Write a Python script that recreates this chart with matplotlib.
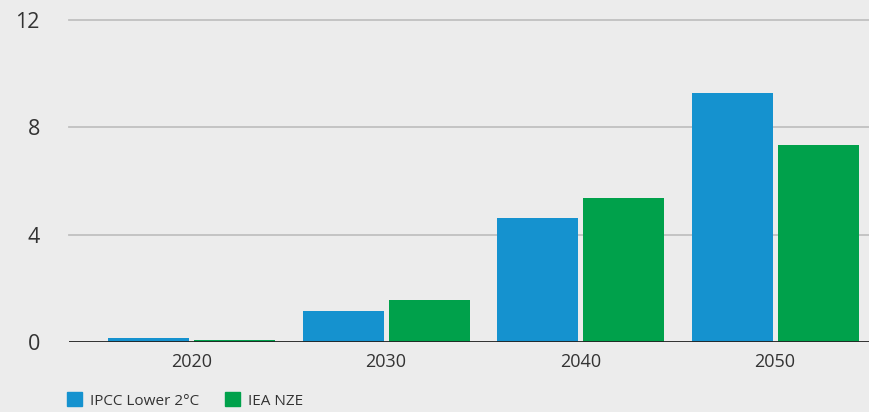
import matplotlib.pyplot as plt
import matplotlib.patches as mpatches
import numpy as np

# data
years = ["2020", "2030", "2040", "2050"]
ipcc_lower_2c = [0.15, 1.16, 4.62, 9.28]
iea_nze = [0.07, 1.57, 5.37, 7.34]
y_ticks = [0, 4, 8, 12]

BLUE = "#1592cf"
GREEN = "#00a14b"
BG = "#ececec"
TEXT = "#333333"

plt.rcParams['font.family'] = ['Open Sans', 'DejaVu Sans']

fig = plt.figure(figsize=(8.69, 4.12), dpi=100, facecolor=BG)
ax = fig.add_axes([0.0794, 0.170, 0.9206, 0.7815], facecolor=BG)

x = np.arange(len(years))
w = 0.4165
ax.bar(x - 0.221, ipcc_lower_2c, width=w, color=BLUE, label="IPCC Lower 2°C", zorder=3)
ax.bar(x + 0.221, iea_nze, width=w, color=GREEN, label="IEA NZE", zorder=3)

ax.set_xlim(-0.63, 3.483)
ax.set_ylim(0, 12)
ax.set_yticks(y_ticks)
ax.set_yticklabels([str(t) for t in y_ticks])
ax.set_xticks(x)
ax.set_xticklabels(years)

for t in y_ticks[1:]:
    ax.axhline(t, color="#c0c0c0", linewidth=1.3, zorder=1, clip_on=False)
ax.axhline(0, color="#222222", linewidth=1.3, zorder=4)

for s in ax.spines.values():
    s.set_visible(False)
ax.tick_params(axis="both", length=0, colors=TEXT)
ax.tick_params(axis="y", labelsize=15.5, pad=21)
ax.tick_params(axis="x", labelsize=13, pad=8)

handles = [mpatches.Patch(color=BLUE, label="IPCC Lower 2°C"),
           mpatches.Patch(color=GREEN, label="IEA NZE")]
leg = fig.legend(handles=handles, loc="lower left", bbox_to_anchor=(0.061, -0.025),
                 ncol=2, frameon=False, fontsize=11, handlelength=1.0, handleheight=1.0,
                 handletextpad=0.5, columnspacing=1.7)
for t in leg.get_texts():
    t.set_color(TEXT)

fig.savefig("out.png", dpi=100, facecolor=BG)
